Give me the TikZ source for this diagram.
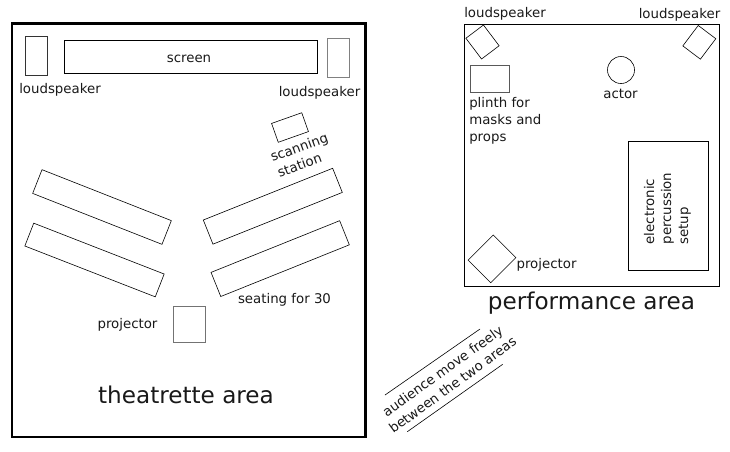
\documentclass[tikz,border=0pt]{standalone}
\usepackage{fontspec}
\setmainfont{DejaVu Sans}
\tikzset{
    every node/.style={inner sep=0mm, text=black!90},
    item/.style 2 args={draw, rectangle, line width=.45pt, minimum width=#1*.75pt, minimum height=#2*.75pt},
    lab/.style={font=\fontsize{10}{12.75}\selectfont},
    biglab/.style={font=\fontsize{17.35}{20}\selectfont}
}
\begin{document}
\begin{tikzpicture}[x=.75pt, y=-.75pt]
        \useasboundingbox (0,0) rectangle (730,451);
        % theatrette area
        \node (theatrette) [item={353.5}{413.5}, line width=1.6pt] at (188.75,230.25) {};
        \node (spkA) [item={22}{39}, draw=black!80] at (36,55.5) {};
        \node (screen) [item={253}{32.5}, line width=.75pt] at (190.5,56.75) {};
        \node (spkB) [item={22}{39}, draw=black!50, line width=.6pt] at (338.5,58) {};
        \node (screenlab) [lab] at (189,58.5) {screen};
        \node (spkAlab) [lab] at (60,90) {loudspeaker};
        \node (spkBlab) [lab] at (319.5,93) {loudspeaker};
        \node (scan) [item={32}{20}, rotate=19.5] at (290,127.5) {};
        \node (scanlab) [lab, align=left, rotate=20] at (302,155) {scanning\\\hspace*{1pt}station};
        \node (seatA) [item={139}{25.5}, rotate=-21.5] at (102,207) {};
        \node (seatB) [item={140}{24.5}, rotate=-21.3] at (94.5,260) {};
        \node (seatC) [item={139.3}{26}, rotate=21.8] at (272.8,206.2) {};
        \node (seatD) [item={138.6}{26}, rotate=21.9] at (280.2,258.6) {};
        \node (seatlab) [lab] at (284.5,299.5) {seating for 30};
        \node (projA) [item={32}{36}, draw=black!55, line width=.6pt] at (189,324) {};
        \node (projAlab) [lab] at (127.5,324.5) {projector};
        \node (theatrettelab) [biglab] at (186,394.5) {theatrette area};
        % performance area
        \node (perf) [item={255.5}{262.5}, line width=1pt] at (592,155.5) {};
        \node (spkC) [item={26}{22}, rotate=-53] at (482.5,42) {};
        \node (spkD) [item={22}{25.6}, rotate=-37] at (699.3,42.3) {};
        \node (spkClab) [lab] at (505,13.5) {loudspeaker};
        \node (spkDlab) [lab] at (679.5,14.5) {loudspeaker};
        \node (plinth) [item={38.5}{26.5}, draw=black!65, line width=.6pt] at (490,78.7) {};
        \node (plinthlab) [lab, align=left, anchor=north west] at (469,97) {plinth for\\masks and\\props};
        \node (actor) [draw, circle, line width=.45pt, minimum size=27*.75pt] at (621,70) {};
        \node (actorlab) [lab] at (620.5,94) {actor};
        \node (perc) [item={80}{129}] at (668.7,205.5) {};
        \node (perclab) [lab, align=left, rotate=90] at (667.5,208.5) {electronic\\percussion\\setup};
        \node (projB) [item={32}{35.6}, rotate=-45] at (492,258.9) {};
        \node (projBlab) [lab] at (546.5,265) {projector};
        \node (perflab) [biglab] at (591.5,303.5) {performance area};
        % audience
        \coordinate (lineAa) at (385,395);
        \coordinate (lineAb) at (480,329);
        \coordinate (lineBa) at (407.3,431.7);
        \coordinate (lineBb) at (502.7,364.3);
        \draw [line width=.45pt] (lineAa) -- (lineAb);
        \draw [line width=.45pt] (lineBa) -- (lineBb);
        \node (audlab) [lab, align=center, rotate=36] at (447.5,378) {audience move freely\\between the two areas};
\end{tikzpicture}
\end{document}
